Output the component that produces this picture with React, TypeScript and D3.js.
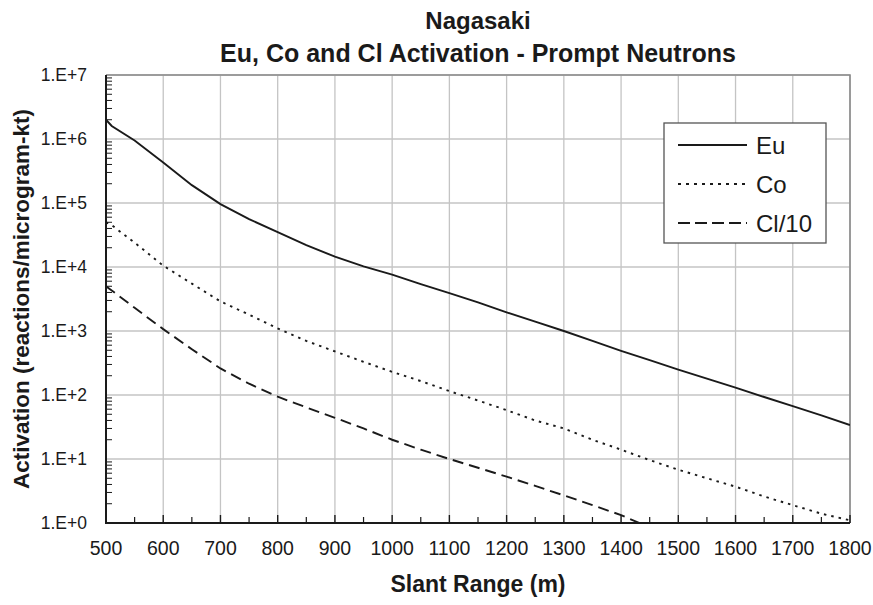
import React, { useEffect, useRef } from "react";
import * as d3 from "d3";

// slant range (m)
const ranges = [500, 510, 550, 600, 650, 700, 750, 800, 850, 900, 950, 1000, 1050, 1100, 1150,
  1200, 1250, 1300, 1350, 1400, 1450, 1500, 1550, 1600, 1650, 1700, 1750, 1800];

// activation (reactions/microgram-kt)
const euValues = [2.0e6, 1.6e6, 9.5e5, 4.3e5, 1.9e5, 9.6e4, 5.6e4, 3.5e4, 2.2e4, 1.45e4, 1.02e4, 7.6e3,
  5.4e3, 3.9e3, 2.8e3, 1.96e3, 1.4e3, 1.0e3, 7.0e2, 4.9e2, 3.5e2, 2.5e2, 1.8e2, 1.3e2, 93, 67, 48, 34];
const coValues = [5.0e4, 4.5e4, 2.4e4, 1.05e4, 5.5e3, 2.9e3, 1.8e3, 1.1e3, 7.0e2, 4.8e2, 3.3e2, 2.3e2,
  1.65e2, 1.15e2, 82, 58, 40, 30, 20, 14, 9.6, 6.8, 5.0, 3.7, 2.6, 1.9, 1.4, 1.1];
const clValues = [5.0e3, 4.3e3, 2.3e3, 1.07e3, 5.2e2, 2.6e2, 1.5e2, 94, 64, 44, 30, 20,
  14, 10, 7.3, 5.3, 3.8, 2.7, 1.9, 1.33, 0.85, NaN, NaN, NaN, NaN, NaN, NaN, NaN];

const seriesNames = ["Eu", "Co", "Cl/10"];
const xTicks = d3.range(500, 1801, 100);
const yTicks = [1, 10, 100, 1e3, 1e4, 1e5, 1e6, 1e7];

const W = 873, H = 605;
const m = { left: 106, right: 850, top: 75, bottom: 523 };

export default function App() {
  const ref = useRef<SVGSVGElement>(null);

  useEffect(() => {
    const svg = d3.select(ref.current);
    svg.selectAll("*").remove();

    const x = d3.scaleLinear().domain([500, 1800]).range([m.left, m.right]);
    const y = d3.scaleLog().domain([1, 1e7]).range([m.bottom, m.top]);

    const font = "Arial, 'Liberation Sans', Helvetica, sans-serif";

    svg.append("defs").append("clipPath").attr("id", "plotclip")
      .append("rect")
      .attr("x", m.left).attr("y", m.top)
      .attr("width", m.right - m.left).attr("height", m.bottom - m.top);

    // grid
    const grid = svg.append("g").attr("stroke", "#c4c4c4").attr("stroke-width", 1.3);
    grid.selectAll("line.v").data(xTicks.slice(1)).join("line")
      .attr("x1", d => x(d)).attr("x2", d => x(d))
      .attr("y1", m.top).attr("y2", m.bottom);
    grid.selectAll("line.h").data(yTicks.slice(1)).join("line")
      .attr("x1", m.left).attr("x2", m.right)
      .attr("y1", d => y(d)).attr("y2", d => y(d));

    // top / right frame in grey
    svg.append("path")
      .attr("d", `M${m.left},${m.top}H${m.right}V${m.bottom}`)
      .attr("fill", "none").attr("stroke", "#8a8a8a").attr("stroke-width", 1.6);

    // series
    const series = [
      { name: seriesNames[0], values: euValues, dash: null, width: 1.9 },
      { name: seriesNames[1], values: coValues, dash: "2.5,5", width: 1.9 },
      { name: seriesNames[2], values: clValues, dash: "11,6", width: 1.9 },
    ];
    const line = d3.line<number>()
      .defined(d => !isNaN(d))
      .x((d, i) => x(ranges[i]))
      .y(d => y(d));
    svg.append("g").attr("clip-path", "url(#plotclip)")
      .selectAll("path").data(series).join("path")
      .attr("d", d => line(d.values))
      .attr("fill", "none")
      .attr("stroke", "#1a1a1a")
      .attr("stroke-width", d => d.width)
      .attr("stroke-dasharray", d => d.dash);

    // axes: left and bottom, ticks pointing inward
    const axes = svg.append("g").attr("stroke", "#1a1a1a");
    const minorY: number[] = [];
    for (let p = 0; p < 7; p++) for (let k = 2; k <= 9; k++) minorY.push(k * 10 ** p);
    axes.selectAll("line.my").data(minorY).join("line")
      .attr("x1", m.left).attr("x2", m.left + 6)
      .attr("y1", d => y(d)).attr("y2", d => y(d))
      .attr("stroke-width", 1);
    axes.selectAll("line.mx").data(d3.range(550, 1800, 100)).join("line")
      .attr("x1", d => x(d)).attr("x2", d => x(d))
      .attr("y1", m.bottom).attr("y2", m.bottom - 6)
      .attr("stroke-width", 1.2);
    axes.selectAll("line.Mx").data(xTicks).join("line")
      .attr("x1", d => x(d)).attr("x2", d => x(d))
      .attr("y1", m.bottom).attr("y2", m.bottom - 8)
      .attr("stroke-width", 1.4);
    axes.append("path")
      .attr("d", `M${m.left},${m.top}V${m.bottom}H${m.right}`)
      .attr("fill", "none").attr("stroke-width", 2);

    // tick labels
    svg.append("g").selectAll("text").data(yTicks).join("text")
      .attr("x", 87).attr("y", d => y(d)).attr("dy", "0.36em")
      .attr("text-anchor", "end")
      .attr("font-family", font).attr("font-size", 17.5).attr("fill", "#1a1a1a")
      .text(d => `1.E+${Math.round(Math.log10(d))}`);
    svg.append("g").selectAll("text").data(xTicks).join("text")
      .attr("x", d => x(d)).attr("y", 555)
      .attr("text-anchor", "middle")
      .attr("font-family", font).attr("font-size", 19.5).attr("fill", "#1a1a1a")
      .text(d => d);

    // titles
    const t = svg.append("g").attr("font-family", font).attr("font-weight", "bold")
      .attr("fill", "#1a1a1a").attr("text-anchor", "middle");
    t.append("text").attr("x", 478).attr("y", 29).attr("font-size", 24).text("Nagasaki");
    t.append("text").attr("x", 478).attr("y", 62).attr("font-size", 25)
      .text("Eu, Co and Cl Activation - Prompt Neutrons");
    t.append("text").attr("x", 478).attr("y", 592).attr("font-size", 23).text("Slant Range (m)");
    t.append("text").attr("transform", `translate(29,${(m.top + m.bottom) / 2}) rotate(-90)`)
      .attr("font-size", 22.5).text("Activation (reactions/microgram-kt)");

    // legend
    const lg = svg.append("g");
    lg.append("rect")
      .attr("x", 664).attr("y", 123).attr("width", 162).attr("height", 120)
      .attr("fill", "white").attr("stroke", "#555").attr("stroke-width", 1.3);
    const rows = lg.selectAll("g").data(series).join("g")
      .attr("transform", (d, i) => `translate(0,${145 + i * 39})`);
    rows.append("line")
      .attr("x1", 678).attr("x2", 747)
      .attr("stroke", "#1a1a1a").attr("stroke-width", 1.8)
      .attr("stroke-dasharray", (d, i) => i === 0 ? null : i === 1 ? "3,5" : "12,5");
    rows.append("text")
      .attr("x", 756).attr("dy", "0.36em")
      .attr("font-family", font).attr("font-size", 24).attr("fill", "#1a1a1a")
      .text(d => d.name);
  }, []);

  return (
    <svg ref={ref} width={W} height={H} style={{ display: "block", position: "absolute", left: 0, top: 0 }} />
  );
}
